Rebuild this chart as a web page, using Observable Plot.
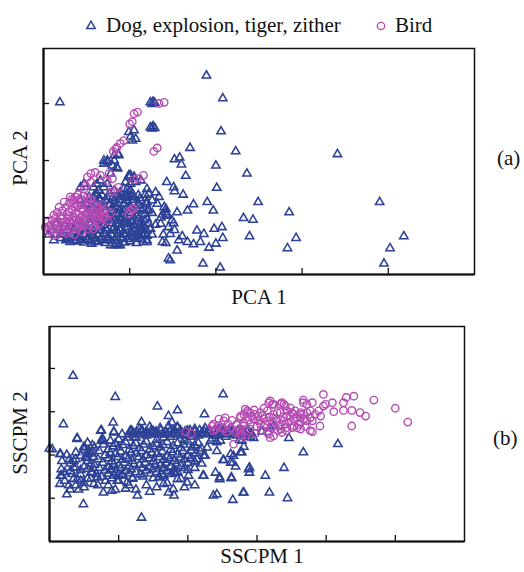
<!DOCTYPE html>
<html>
<head>
<meta charset="utf-8">
<script src="https://cdn.jsdelivr.net/npm/d3@7"></script>
<script src="https://cdn.jsdelivr.net/npm/@observablehq/plot@0.6"></script>
<style>
  html, body { margin: 0; padding: 0; background: #fff; }
  #wrap { position: relative; width: 524px; height: 572px; overflow: hidden; background: #fff; }
  #wrap svg.plot { position: absolute; left: 0; }
  #overlay { position: absolute; left: 0; top: 0; pointer-events: none; }
  #overlay text { font-family: "Liberation Serif", "Times New Roman", serif; font-size: 21px; fill: #111; }
</style>
</head>
<body>
<div id="wrap"></div>
<script>
// ---------- data (axis units = tick intervals) ----------
const legendLabels = ["Dog, explosion, tiger, zither", "Bird"];
const panelLabels = ["(a)", "(b)"];
const axisLabelsA = ["PCA 1", "PCA 2"];
const axisLabelsB = ["SSCPM 1", "SSCPM 2"];

const xTicksA = [1, 2, 3, 4];
const yTicksA = [1, 2, 3];
const xTicksB = [1, 2, 3, 4, 5];
const yTicksB = [1, 2, 3, 4];

// Panel (a): PCA, "Dog, explosion, tiger, zither"
const pcaOther = [
  [0.19,3.02],[1.89,3.49],[2.08,3.09],[2.06,2.51],[1.70,2.22],[2.23,2.16],[2.36,1.77],[2.00,1.91],[1.65,1.73],
  [1.52,2.02],[1.58,2.05],[1.60,1.93],[1.43,1.62],[2.01,1.52],[1.51,1.53],[1.52,1.46],[1.62,1.40],[1.74,1.23],
  [1.90,1.27],[1.97,1.12],[1.67,1.12],[1.55,1.09],[2.32,0.99],[2.43,0.96],[2.49,1.27],[2.85,1.09],[3.41,2.11],
  [3.90,1.27],[2.39,0.67],[2.93,0.64],[2.83,0.46],[4.18,0.67],[4.02,0.46],[3.95,0.19],
  [1.78,0.77],[1.86,0.71],[1.98,0.80],[2.07,0.83],[2.08,0.64],[2.00,0.54],[1.92,0.47],[1.82,0.57],[1.74,0.53],
  [1.67,0.57],[1.57,0.60],[1.55,0.42],[1.61,0.67],[1.51,0.90],[1.52,0.78],[1.47,0.71],[1.39,0.70],[1.38,0.57],
  [1.42,0.55],[1.47,0.25],[1.85,0.19],[2.05,0.12],[1.20,0.57],[1.20,1.12],
  [1.20,1.50],[1.22,1.42],[1.30,1.44],[1.34,1.36],[1.26,1.30],[1.20,1.27],[1.32,1.24],[1.40,1.18],[1.42,1.09],
  [1.38,1.05],[1.43,1.05],[1.16,0.86],[1.13,0.80],[1.09,0.74],[1.15,0.71],
  [1.24,3.02],[1.27,3.03],[1.29,3.01],[1.26,2.99],[1.24,2.58],[1.27,2.60],[1.29,2.57],[1.26,2.56],
  [0.99,2.50],[1.05,2.53],[1.03,2.35],[1.07,2.38],[1.01,2.42],[0.82,2.09],[0.87,2.11],
  [0.87,2.09],[0.82,2.00],[0.74,1.97],[0.70,1.94],[0.85,1.88],[0.78,1.77],[0.99,1.71],[1.01,1.74],[1.05,1.71],
  [0.43,1.53],[0.47,1.59],[0.97,1.50],[1.01,1.47],[0.97,1.36],[0.82,1.24],[0.80,1.18],[0.87,1.06],
  [0.70,2.00],[0.74,2.00],[0.80,1.91],[0.86,1.86],
  [0.99,1.74],[1.05,1.71],[0.95,1.62],[1.01,1.59],[1.07,1.62],[1.13,1.65],
  [0.66,1.65],[0.62,1.59],[0.58,1.53],[0.64,1.47],[0.70,1.53],[0.74,1.59],
  [0.82,1.47],[0.89,1.44],[0.93,1.50],[0.97,1.42],[1.01,1.47],
  [0.58,1.36],[0.66,1.30],[0.74,1.36],[0.82,1.30],[0.89,1.36],[0.97,1.30],[1.05,1.36],[1.13,1.30],
  [0.55,1.18],[0.62,1.12],[0.70,1.18],[0.78,1.12],[0.85,1.18],[0.93,1.12],[1.01,1.18],[1.09,1.12],[1.16,1.15],
  [0.58,1.00],[0.66,0.95],[0.74,1.00],[0.82,0.95],[0.89,1.00],[0.97,0.95],[1.05,1.00],[1.13,0.92],[1.20,0.98],
  [0.51,0.83],[0.58,0.77],[0.66,0.83],[0.74,0.77],[0.82,0.83],[0.89,0.77],[0.97,0.83],[1.05,0.77],[1.13,0.83],[1.20,0.77],
  [0.43,0.65],[0.51,0.62],[0.58,0.68],[0.66,0.62],[0.74,0.65],[0.82,0.60],[0.89,0.65],[0.97,0.62],[1.05,0.68],[1.13,0.62],[1.20,0.68],
  [0.78,0.51],[0.85,0.54],[0.55,0.60],[0.35,0.60],[0.27,0.62],[0.20,0.64],
  [0.15,0.90],[0.25,0.85],[0.35,0.75],[0.45,0.80],[0.20,0.70],[0.30,0.65],[0.40,0.68],
  [1.42,1.15],[1.36,1.00],[1.43,1.03],[1.49,0.95],[1.36,0.89],[1.45,0.83],[1.20,0.60],[1.45,0.28],
  [0.89,0.95],[0.97,0.89],[1.05,0.86],[0.85,0.77],[0.93,0.71],[1.01,0.74],[1.09,0.68],[0.78,0.60],[0.89,0.51],
  [0.26,0.60],[0.31,0.57],[0.56,0.54],[0.60,0.57],[0.72,0.55],[0.82,0.51],[0.87,0.51],
  [0.43,1.30],[0.49,1.24],[0.53,1.36],[0.62,1.42],[0.58,1.18],
  [0.20,0.71],[0.27,0.65],[0.43,0.62],[0.51,0.60],
  [0.60,1.41],[0.68,1.39],[0.77,1.42],[0.86,1.40],[0.94,1.38],[1.03,1.41],[1.10,1.39],[1.18,1.40],
  [0.52,1.25],[0.60,1.23],[0.69,1.26],[0.77,1.22],[0.86,1.25],[0.94,1.23],[1.03,1.26],[1.11,1.22],[1.19,1.24],
  [0.50,1.07],[0.59,1.05],[0.67,1.08],[0.75,1.04],[0.84,1.07],[0.92,1.05],[1.01,1.08],[1.09,1.04],[1.18,1.06],[1.26,1.08],
  [0.45,0.90],[0.54,0.88],[0.62,0.91],[0.70,0.87],[0.79,0.90],[0.87,0.88],[0.95,0.91],[1.03,0.93],[1.12,0.88],[1.22,0.90],[1.30,0.87],
  [0.40,0.72],[0.48,0.70],[0.55,0.73],[0.63,0.70],[0.71,0.72],[0.79,0.69],[0.87,0.72],[0.95,0.70],[1.03,0.73],[1.11,0.70],[1.18,0.72],[1.26,0.70],
  [0.38,0.58],[0.47,0.56],[0.63,0.58],[0.70,0.60],[0.94,0.56],[1.00,0.58],[1.08,0.55],[1.16,0.57],
  [0.10,0.78],[0.18,0.82],[0.28,0.78],[0.36,0.82],[0.12,0.60],[0.06,0.70],[0.33,0.90],[0.40,0.95],
  [0.64,1.33],[0.72,1.31],[0.80,1.34],[0.88,1.31],[0.96,1.34],[1.04,1.31],[1.12,1.34],
  [0.56,1.14],[0.64,1.16],[0.72,1.13],[0.80,1.16],[0.88,1.13],[0.96,1.16],[1.04,1.13],[1.12,1.16],[1.22,1.13],
  [0.54,0.96],[0.62,0.98],[0.70,0.95],[0.78,0.98],[0.86,0.95],[0.94,0.98],[1.02,0.95],[1.10,0.98],[1.17,0.95],
  [0.48,0.79],[0.56,0.81],[0.64,0.78],[0.72,0.81],[0.80,0.78],[0.88,0.81],[0.96,0.78],[1.04,0.81],[1.12,0.78],[1.24,0.80],
  [0.44,0.60],[0.52,0.66],[0.60,0.63],[0.68,0.66],[0.76,0.63],[0.84,0.66],[0.92,0.63],[1.00,0.66],[1.08,0.63]
];

// Panel (a): PCA, "Bird"
const pcaBird = [
  [1.34,3.00],[1.40,3.02],[1.05,2.82],[1.09,2.85],[1.00,2.64],[1.03,2.68],[0.89,2.30],[0.93,2.35],[0.85,2.23],
  [0.81,2.16],[0.84,2.20],[1.28,2.16],[1.32,2.22],
  [0.55,1.77],[0.60,1.79],[0.51,1.71],[0.66,1.74],[0.76,1.77],[0.80,1.68],[0.74,1.65],[0.49,1.56],[0.55,1.62],
  [0.47,1.50],[0.87,1.53],[0.82,1.47],[0.78,1.44],[1.09,1.68],[1.16,1.74],[1.05,1.66],[1.03,1.15],[0.99,1.06],
  [1.01,1.12],[1.05,1.15],
  [0.02,0.83],[0.12,0.68],[0.51,0.80],[0.64,1.03],[0.70,1.03],[0.31,1.36],[0.35,1.30],[0.24,1.27],[0.16,1.09],[0.14,1.00],
  [0.08,0.86],[0.14,0.80],[0.22,1.12],[0.27,1.06],[0.33,1.15],[0.39,1.21],[0.45,1.30],[0.51,1.36],[0.37,1.36],
  [0.20,0.92],[0.27,0.89],[0.35,0.95],[0.43,1.00],[0.51,1.06],[0.58,1.09],[0.66,1.06],[0.72,1.00],[0.62,0.95],
  [0.55,0.92],[0.47,0.86],[0.39,0.80],[0.31,0.77],[0.24,0.74],[0.20,0.83],
  [0.35,1.24],[0.43,1.15],[0.51,1.21],[0.58,1.24],[0.41,1.06],[0.49,0.98],[0.56,1.00],[0.64,1.15],[0.70,1.09],
  [0.10,0.95],[0.28,0.98],[0.45,0.92],[0.60,0.85],[0.36,0.70],[0.18,0.78],
  [0.05,0.92],[0.13,0.88],[0.22,0.98],[0.30,1.02],[0.38,1.08],[0.46,1.12],[0.54,1.16],[0.62,1.20],[0.68,1.22],
  [0.26,1.18],[0.30,1.26],[0.40,1.40],[0.46,1.38],[0.55,1.32],[0.18,1.18],[0.08,0.76],[0.16,0.70],[0.27,0.72],
  [0.33,0.84],[0.42,0.88],[0.53,0.86],[0.65,0.90],[0.75,0.94],[0.58,0.80],[0.45,0.75],[0.04,0.78],[0.24,0.92],
  [0.36,1.00],[0.48,1.04],[0.60,1.02],[0.68,0.98],
  [0.12,1.04],[0.20,1.02],[0.29,1.10],[0.37,1.18],[0.44,1.22],[0.52,1.28],[0.40,1.30],[0.33,1.32],[0.22,0.86],
  [0.30,0.92],[0.39,0.96],[0.55,1.06],[0.62,1.10],[0.72,1.14],[0.78,1.08],[0.06,0.84],[0.16,0.92],[0.41,0.84]
];

// Panel (b): SSCPM, "Dog, explosion, tiger, zither"
const sscpmOther = [
  [0.34,3.83],[0.95,3.34],[1.56,3.12],[1.85,3.03],[2.51,3.40],[0.20,2.71],[0.40,2.39],[0.00,2.15],[0.75,2.57],
  [0.92,2.75],[0.93,2.54],[0.78,2.34],[1.33,2.76],[1.17,2.56],[1.34,2.56],[1.72,2.90],[1.77,2.75],[2.24,2.94],
  [0.15,1.33],[0.25,1.09],[0.16,1.52],[0.49,0.86],[0.78,1.13],[0.90,1.17],[1.27,1.06],[1.33,0.55],[1.72,1.13],
  [1.80,1.06],[1.79,1.21],[2.37,1.06],[2.42,1.09],[2.65,0.96],[2.81,1.13],
  [2.40,1.59],[2.46,1.44],[2.63,1.46],[2.22,1.52],[2.01,1.52],[1.99,1.36],
  [2.51,1.88],[2.62,2.02],[2.69,1.73],[2.65,1.82],[2.78,2.06],[2.88,1.67],
  [0.15,2.02],[0.18,1.86],[0.17,1.67],[0.29,1.90],[0.35,1.71],[0.33,1.56],[0.40,1.44],[0.50,2.19],[0.54,2.02],
  [0.62,2.09],[0.88,2.33],[1.00,2.36],[1.12,2.40],
  [0.93,1.52],[0.98,1.40],[1.12,1.36],[0.69,1.48],[0.64,1.33],[0.81,1.40],[1.58,1.48],[1.65,1.33],[1.85,1.44],[1.82,1.59],
  [2.06,2.17],[2.18,2.09],[2.23,1.98],[2.13,1.90],[2.33,2.33],[2.42,2.09],[2.28,2.17],
  [3.46,2.39],[3.67,2.06],[4.17,2.25],[3.39,1.70],[3.12,1.52],[2.89,1.71],[2.89,1.59],[2.63,1.48],[2.46,1.48],[2.23,1.52],
  [2.80,1.13],[3.18,1.13],[3.44,1.00],
  [2.25,1.98],[2.52,1.88],[2.66,1.98],[2.62,1.82],[2.76,2.06],[2.81,2.19],
  [2.95,2.39],[3.07,2.54],[3.19,2.62],[3.24,2.67],[2.42,2.29],[2.47,2.33],[2.78,2.33],
  [0.74,2.56],[0.93,2.52],[0.40,2.37],[0.76,2.37],[0.04,2.13],[0.16,2.02],[0.18,1.52],[0.38,2.06],[0.35,1.86],
  [0.38,1.71],[0.50,2.17],[0.54,1.94],
  [1.05,2.48],[1.17,2.56],[1.24,2.40],[1.34,2.56],[1.48,2.52],[1.72,2.67],[1.85,2.63],[1.99,2.56],
  [1.20,2.50],[1.30,2.60],[1.40,2.45],[1.50,2.55],[1.60,2.62],[1.70,2.50],[1.80,2.58],[1.90,2.45],[2.00,2.55],
  [2.10,2.60],[2.20,2.50],[2.30,2.57],[2.40,2.45],[2.50,2.55],[2.60,2.50],[2.70,2.45],[2.80,2.50],[2.90,2.42],
  [1.25,2.40],[1.45,2.65],[1.65,2.40],[1.85,2.65],[2.05,2.42],[2.25,2.62],[2.45,2.60],[2.65,2.58],[2.85,2.55],
  [1.55,2.35],[1.95,2.35],[2.35,2.38],[2.75,2.35],[2.15,2.45],[2.55,2.42],[1.75,2.42],
  [1.15,2.47],[1.22,2.50],[1.29,2.47],[1.36,2.50],[1.43,2.47],[1.50,2.50],[1.57,2.47],[1.64,2.50],[1.71,2.47],
  [1.78,2.50],[1.85,2.47],[1.92,2.50],[1.99,2.47],[2.06,2.50],[2.13,2.47],[2.20,2.50],[2.27,2.47],[2.34,2.50],
  [2.41,2.47],[2.48,2.50],[2.55,2.47],[2.62,2.50],[2.69,2.47],[2.76,2.50],[2.83,2.47],[2.92,2.50],
  [1.19,2.56],[1.26,2.54],[1.33,2.57],[1.40,2.54],[1.47,2.57],[1.54,2.54],[1.61,2.57],[1.68,2.54],[1.75,2.57],
  [1.82,2.54],[1.89,2.57],[1.96,2.54],[2.03,2.57],[2.10,2.54],[2.17,2.57],[2.24,2.54],[2.31,2.57],[2.38,2.54],
  [2.45,2.57],[2.52,2.54],[2.59,2.57],[2.66,2.54],[2.73,2.57],[2.80,2.54],[2.87,2.57],
  [0.55,2.28],[0.75,2.32],[0.95,2.26],[1.10,2.30],[1.25,2.27],[1.40,2.31],[1.55,2.25],[1.70,2.30],[1.85,2.27],[2.00,2.31],[2.15,2.28],
  [0.50,2.12],[0.65,2.17],[0.85,2.13],[1.00,2.18],[1.15,2.12],[1.30,2.16],[1.45,2.13],[1.60,2.18],[1.75,2.12],[1.90,2.16],[2.05,2.10],[2.20,2.15],
  [0.45,1.98],[0.60,2.03],[0.80,1.99],[0.95,2.02],[1.10,1.97],[1.25,2.03],[1.40,1.99],[1.55,2.02],[1.70,1.97],[1.85,2.01],[2.00,1.98],
  [0.55,1.86],[0.70,1.90],[0.90,1.85],[1.05,1.89],[1.20,1.86],[1.35,1.90],[1.50,1.85],[1.65,1.89],[1.80,1.86],[1.95,1.90],[2.10,1.85],
  [0.50,1.73],[0.65,1.77],[0.85,1.72],[1.00,1.76],[1.15,1.73],[1.30,1.77],[1.45,1.72],[1.60,1.76],[1.75,1.73],[1.90,1.75],
  [0.60,1.60],[0.80,1.64],[0.95,1.60],[1.10,1.63],[1.25,1.60],[1.40,1.64],[1.55,1.60],[1.70,1.63],[1.85,1.61],
  [0.75,1.50],[0.90,1.46],[1.05,1.52],[1.20,1.47],[1.35,1.50],[1.50,1.46],[1.65,1.52],
  [0.62,2.22],[0.78,2.24],[0.92,2.20],[1.06,2.23],[1.21,2.21],[1.36,2.24],[1.50,2.20],[1.64,2.23],[1.79,2.21],[1.94,2.24],[2.10,2.22],
  [0.56,2.07],[0.72,2.09],[0.88,2.05],[1.03,2.08],[1.18,2.06],[1.33,2.09],[1.48,2.05],[1.63,2.08],[1.78,2.06],[1.93,2.09],[2.12,2.04],
  [0.52,1.93],[0.64,1.95],[0.85,1.92],[0.99,1.95],[1.14,1.92],[1.29,1.95],[1.44,1.92],[1.59,1.95],[1.74,1.92],[1.89,1.94],[2.04,1.93],
  [0.60,1.80],[0.77,1.82],[0.93,1.79],[1.08,1.82],[1.22,1.79],[1.38,1.82],[1.53,1.79],[1.68,1.82],[1.84,1.80],[2.00,1.81],
  [0.55,1.68],[0.72,1.70],[0.88,1.67],[1.03,1.70],[1.18,1.67],[1.34,1.70],[1.49,1.67],[1.64,1.69],[1.80,1.67],[1.95,1.70],
  [0.68,1.56],[0.85,1.57],[1.00,1.55],[1.16,1.57],[1.31,1.55],[1.46,1.57],[1.62,1.55],[1.76,1.56],
  [0.25,2.00],[0.30,1.80],[0.22,1.60],[0.38,1.90],[0.45,1.65],[0.35,1.45],[0.50,1.35],[0.28,1.30],[0.42,1.20],[0.60,1.45],
  [0.90,1.65],[1.05,1.55],[1.20,1.45],[1.00,1.40],[1.15,1.30],[1.65,1.70],[1.80,1.60],[1.90,1.45],[2.00,1.65],
  [0.45,1.40],[0.38,1.30],[0.50,1.25],[0.30,1.20],[0.22,1.40],[0.30,1.62],[0.45,1.55],[0.55,1.45],[0.62,1.60],
  [0.70,1.30],[0.85,1.30],[0.95,1.20],[1.10,1.22],[1.25,1.20],[1.40,1.30],[1.45,1.15],[1.55,1.25],[1.70,1.35],
  [1.95,1.25],[2.10,1.30],[2.10,1.70],[2.20,1.80]
];

// Panel (b): SSCPM, "Bird"
const sscpmBird = [
  [3.96,3.40],[3.67,3.27],[3.67,3.21],[3.80,3.21],[3.99,3.17],[4.09,3.21],[4.25,3.21],[4.29,3.33],[4.40,3.36],
  [4.69,3.27],[5.00,3.08],[5.18,2.76],[4.37,3.03],[4.49,2.98],[4.57,2.90],[4.25,3.03],[4.11,3.00],[4.37,2.67],
  [3.91,2.67],[3.80,2.54],[3.80,2.79],[3.58,2.63],[3.96,3.13],[3.89,3.02],[3.84,2.94],[3.92,2.90],
  [3.39,3.17],[3.48,3.09],[3.55,3.02],[3.63,2.98],[3.67,2.94],
  [3.17,3.21],[3.22,3.17],[3.34,3.17],[2.86,3.02],[2.90,2.98],[2.81,2.94],[2.76,2.86],[3.17,2.48],[3.19,2.40],
  [3.34,2.60],[2.66,2.25],[2.76,2.56],[2.69,2.52],[2.78,2.44],
  [2.37,2.71],[2.52,2.79],[2.45,2.83],[2.35,2.67],[2.52,2.60],
  [2.95,2.83],[3.02,2.90],[3.10,2.83],[3.05,2.71],[3.15,2.79],[3.24,2.86],[3.29,2.98],[3.43,3.02],[3.48,2.90],
  [3.39,2.79],[3.53,2.83],[3.63,2.94],[3.72,2.98],[3.77,2.86],[3.63,2.75],[3.53,2.67],[3.43,2.63],[3.34,2.71],
  [1.97,2.54],[2.05,2.49],[2.54,2.86],[2.50,2.63],[2.37,2.56],[2.71,2.56],[2.78,2.48],[2.83,2.40],
  [2.40,2.60],[2.74,2.60],[2.81,2.67],[2.76,2.90],[2.86,2.98],
  [3.19,3.25],[3.24,3.17],[3.36,3.21],[3.41,3.13],[3.72,3.17],
  [2.83,3.06],[2.98,2.94],[3.05,2.98],[3.15,3.02],[3.24,2.94],[3.34,2.98],[3.43,2.90],[3.53,2.94],[3.63,2.86],[3.72,2.79],
  [2.81,2.75],[2.90,2.71],[3.02,2.79],[3.12,2.71],[3.22,2.75],[3.31,2.67],[3.41,2.71],[3.51,2.63],[3.63,2.60],
  [3.15,2.52],[3.24,2.44],[3.36,2.52],[3.43,2.56],[3.77,3.02],[3.77,2.56],
  [2.44,2.68],[2.58,2.72],[2.64,2.80],[2.70,2.70],[2.88,2.80],[2.92,2.90],[3.00,2.66],[3.08,2.92],[3.18,2.88],
  [3.20,2.64],[3.28,2.78],[3.30,2.56],[3.38,2.88],[3.46,2.76],[3.50,2.98],[3.58,2.86],[3.60,2.70],[3.68,2.84],
  [3.70,2.66],[2.96,3.04],[3.10,3.08],[2.62,2.62],[2.56,2.54],[2.90,2.60],[2.98,2.50],[3.06,2.58]
];

// ---------- drawing ----------
const BLUE = "#2c4196";
const MAG = "#b64ab3";
const wrap = document.getElementById("wrap");

function panel(o) {
  const frameW = 524 - o.mL - o.mR;
  const frameH = o.h - o.mT - o.mB;
  const svg = Plot.plot({
    width: 524, height: o.h,
    marginLeft: o.mL, marginRight: o.mR, marginTop: o.mT, marginBottom: o.mB,
    x: { domain: o.xDomain, axis: null },
    y: { domain: o.yDomain, axis: null },
    style: { background: "transparent", overflow: "visible" },
    marks: [
      Plot.dot(o.others, { x: d => d[0], y: d => d[1], symbol: "triangle", r: 3.1, stroke: BLUE, strokeWidth: 1.55, fill: "none" }),
      Plot.dot(o.birds, { x: d => d[0], y: d => d[1], symbol: "circle", r: 3.7, stroke: MAG, strokeWidth: 1.4, fill: "none" }),
      Plot.ruleX(o.xTicks, { x: d => d, insetTop: frameH - 6, stroke: "#111", strokeWidth: 1.3 }),
      Plot.ruleY(o.yTicks, { y: d => d, insetRight: frameW - 6, stroke: "#111", strokeWidth: 1.3 }),
      Plot.frame({ stroke: "#111", strokeWidth: 1.5 }),
      Plot.ruleX([o.xDomain[0]], { stroke: "#111", strokeWidth: 2.2 }),
      Plot.ruleY([o.yDomain[0]], { stroke: "#111", strokeWidth: 2.2 })
    ]
  });
  svg.classList.add("plot");
  svg.style.top = o.top + "px";
  wrap.appendChild(svg);
}

panel({ others: pcaOther, birds: pcaBird, xDomain: [0, 5], yDomain: [0, 3.965],
  xTicks: xTicksA, yTicks: yTicksA, mL: 43, mR: 50, mT: 48, mB: 16, h: 290, top: 0 });
panel({ others: sscpmOther, birds: sscpmBird, xDomain: [0, 6], yDomain: [0, 4.97],
  xTicks: xTicksB, yTicks: yTicksB, mL: 49, mR: 60, mT: 26, mB: 10, h: 251, top: 300 });

// text overlay: legend, axis titles, panel tags
const ns = "http://www.w3.org/2000/svg";
const ov = document.createElementNS(ns, "svg");
ov.setAttribute("id", "overlay");
ov.setAttribute("width", 524);
ov.setAttribute("height", 572);
function txt(s, x, y, anchor, transform) {
  const t = document.createElementNS(ns, "text");
  t.textContent = s;
  if (transform) t.setAttribute("transform", transform);
  else { t.setAttribute("x", x); t.setAttribute("y", y); }
  t.setAttribute("text-anchor", anchor || "start");
  ov.appendChild(t);
}
// legend glyphs
const tri = document.createElementNS(ns, "path");
tri.setAttribute("d", d3.symbol(d3.symbolTriangle, Math.PI * 3.1 * 3.1)());
tri.setAttribute("transform", "translate(91,26)");
tri.setAttribute("fill", "none"); tri.setAttribute("stroke", BLUE); tri.setAttribute("stroke-width", 1.5);
ov.appendChild(tri);
const cir = document.createElementNS(ns, "circle");
cir.setAttribute("cx", 381); cir.setAttribute("cy", 26); cir.setAttribute("r", 3.7);
cir.setAttribute("fill", "none"); cir.setAttribute("stroke", MAG); cir.setAttribute("stroke-width", 1.35);
ov.appendChild(cir);
txt(legendLabels[0], 106, 32);
txt(legendLabels[1], 395, 32);
txt(axisLabelsA[0], 259, 304, "middle");
txt(axisLabelsA[1], 0, 0, "middle", "translate(27,158) rotate(-90)");
txt(axisLabelsB[0], 262, 563, "middle");
txt(axisLabelsB[1], 0, 0, "middle", "translate(27,433) rotate(-90)");
txt(panelLabels[0], 497, 165);
txt(panelLabels[1], 493, 445);
wrap.appendChild(ov);
</script>
</body>
</html>
